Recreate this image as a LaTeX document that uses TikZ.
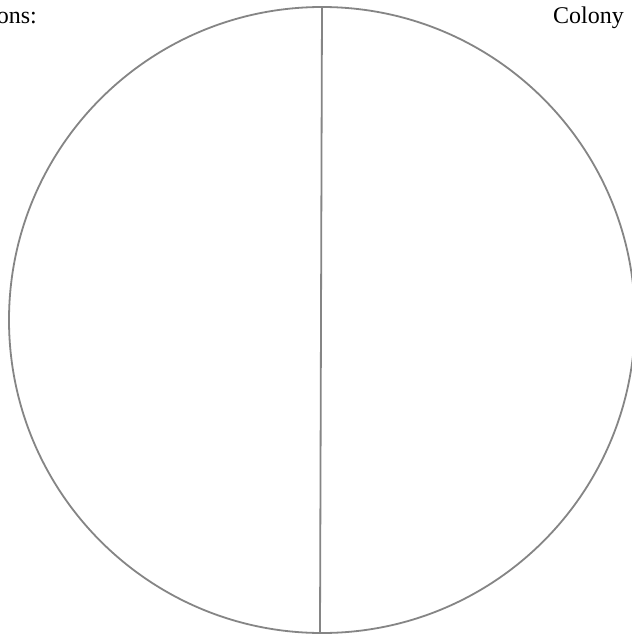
\documentclass[tikz,border=0pt]{standalone}
\usepackage{fontspec}
\setmainfont{Liberation Serif}
\begin{document}
\begin{tikzpicture}[x=1pt,y=-1pt,
  outline/.style={draw=black!48,line width=1.8pt},
  label/.style={inner sep=0pt,font=\fontsize{24}{28}\selectfont,text=black}]
\clip (0,0) rectangle (632,635);
\fill[white] (0,0) rectangle (632,635);
\node[outline,circle,minimum size=626pt,inner sep=0pt] (disc) at (322,320) {};
\coordinate (top) at (322,7);
\coordinate (bot) at (320,633);
\draw[outline] (top) -- (bot);
\node[label,anchor=base east] (lt) at (37,23) {ons:};
\node[label,anchor=base west] (rt) at (553,23) {Colony};
\end{tikzpicture}
\end{document}
